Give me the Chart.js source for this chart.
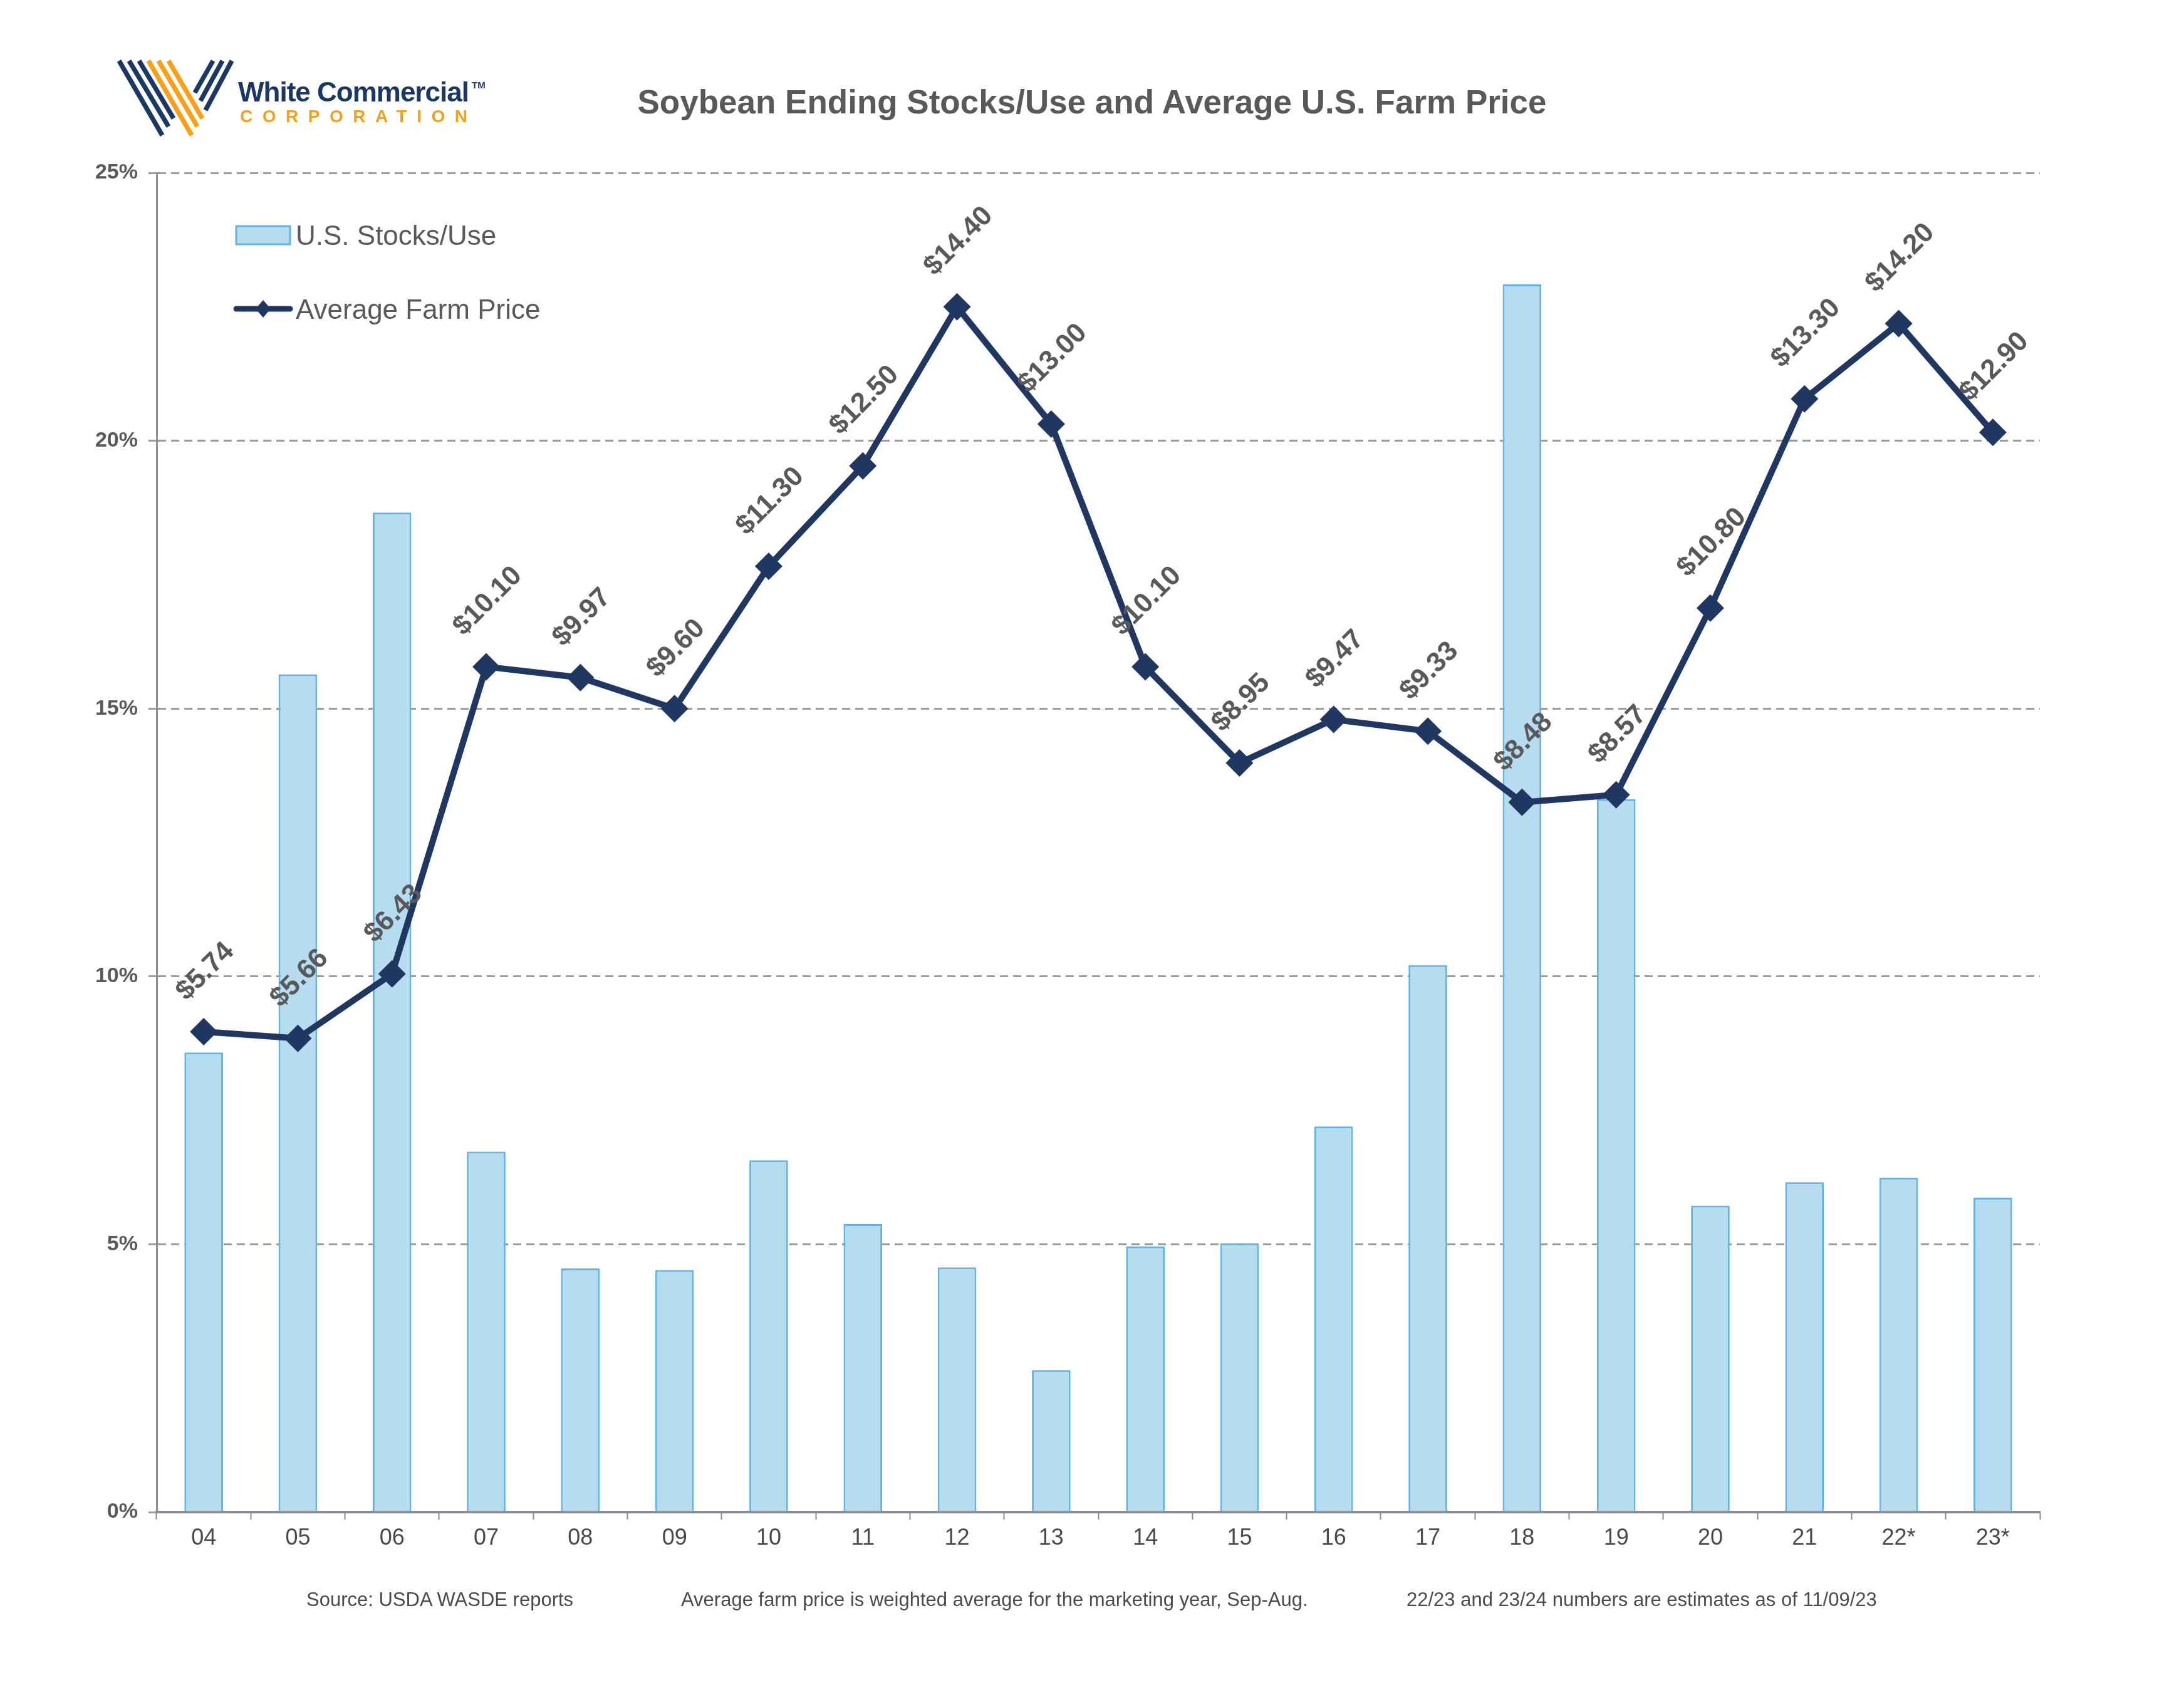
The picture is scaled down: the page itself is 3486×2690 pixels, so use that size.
<!DOCTYPE html>
<html>
<head>
<meta charset="utf-8">
<title>Soybean Ending Stocks/Use and Average U.S. Farm Price</title>
<script src="https://cdn.jsdelivr.net/npm/chart.js@4.4.0/dist/chart.umd.min.js"></script>
<style>
  html, body { margin: 0; padding: 0; background: #fff; }
  #wrap { position: relative; width: 3486px; height: 2690px; overflow: hidden;
          font-family: "Liberation Sans", Arial, sans-serif; }
  #chart { position: absolute; left: 0; top: 0; }
  .txt { position: absolute; white-space: nowrap; line-height: 1; }
  .logo-name { left: 380px; top: 125px; font-size: 44px; font-weight: bold; color: #1b3764; letter-spacing: -1px; }
  .logo-tm { left: 753px; top: 128px; font-size: 15px; font-weight: bold; color: #1b3764; }
  .logo-corp { left: 383px; top: 172px; font-size: 28px; font-weight: bold; color: #f5a01a; letter-spacing: 15.5px; }
  .title { left: 0; width: 3486px; text-align: center; top: 136px; font-size: 53px; font-weight: bold; color: #58595b; }
  .note { top: 2538px; font-size: 31px; color: #4a4a4c; }
</style>
</head>
<body>
<div id="wrap">
  <canvas id="chart" width="3486" height="2690" style="width:3486px;height:2690px"></canvas>

  <!-- logo -->
  <svg style="position:absolute;left:0;top:0" width="420" height="240">
    <g stroke-width="7.5" stroke-linecap="butt" fill="none">
      <line x1="190" y1="97" x2="259" y2="216" stroke="#1b3764"/>
      <line x1="206" y1="97" x2="269" y2="202" stroke="#1b3764"/>
      <line x1="222" y1="97" x2="277" y2="189" stroke="#1b3764"/>
      <line x1="237" y1="97" x2="306" y2="216" stroke="#f7a11a"/>
      <line x1="253" y1="97" x2="315" y2="202" stroke="#f7a11a"/>
      <line x1="269" y1="97" x2="323" y2="189" stroke="#f7a11a"/>
      <line x1="340" y1="97" x2="311" y2="148" stroke="#1b3764"/>
      <line x1="355" y1="97" x2="320" y2="161" stroke="#1b3764"/>
      <line x1="370" y1="97" x2="328" y2="176" stroke="#1b3764"/>
    </g>
  </svg>
  <div class="txt logo-name">White Commercial</div>
  <div class="txt logo-tm">TM</div>
  <div class="txt logo-corp">CORPORATION</div>

  <div class="txt title">Soybean Ending Stocks/Use and Average U.S. Farm Price</div>

  <div class="txt note" style="left:489px">Source: USDA WASDE reports</div>
  <div class="txt note" style="left:1087px">Average farm price is weighted average for the marketing year, Sep-Aug.</div>
  <div class="txt note" style="left:2245px">22/23 and 23/24 numbers are estimates as of 11/09/23</div>
</div>

<script>
// Data
const years = ['04', '05', '06', '07', '08', '09', '10', '11', '12', '13',
    '14', '15', '16', '17', '18', '19', '20', '21', '22*', '23*'];
const stocksUse = [8.58, 15.64, 18.66, 6.73, 4.55, 4.52, 6.57, 5.38, 4.57, 2.65,
    4.96, 5.02, 7.20, 10.21, 22.92, 13.31, 5.72, 6.16, 6.24, 5.87];
const farmPrice = [5.74, 5.66, 6.43, 10.10, 9.97, 9.60, 11.30, 12.50, 14.40, 13.00,
    10.10, 8.95, 9.47, 9.33, 8.48, 8.57, 10.80, 13.30, 14.20, 12.90];
const priceLabels = farmPrice.map(v => '$' + v.toFixed(2));
const pctTicks = [0, 5, 10, 15, 20, 25];

const FONT = '"Liberation Sans", Arial, sans-serif';
const GREY_TEXT = '#58595b';

// price labels, rotated 45 degrees above each point
const priceLabelPlugin = {
    id: 'priceLabels',
    afterDatasetsDraw(chart) {
        const meta = chart.getDatasetMeta(1);
        const ctx = chart.ctx;
        const size = 44;
        ctx.save();
        ctx.font = 'bold ' + size + 'px ' + FONT;
        ctx.fillStyle = GREY_TEXT;
        ctx.textAlign = 'center';
        ctx.textBaseline = 'alphabetic';
        meta.data.forEach((pt, i) => {
            const txt = priceLabels[i];
            const w = ctx.measureText(txt).width;
            const half = (w + 38) * Math.SQRT1_2 / 2;
            ctx.save();
            ctx.translate(pt.x, pt.y - 46 - half);
            ctx.rotate(-Math.PI / 4);
            ctx.fillText(txt, 0, size * 0.36);
            ctx.restore();
        });
        ctx.restore();
    }
};

// legend drawn inside the plot, top left
const insideLegend = {
    id: 'insideLegend',
    afterDraw(chart) {
        const ctx = chart.ctx;
        const bars = chart.data.datasets[0];
        const line = chart.data.datasets[1];
        ctx.save();
        ctx.fillStyle = bars.backgroundColor;
        ctx.fillRect(377, 361, 86, 29);
        ctx.strokeStyle = bars.borderColor;
        ctx.lineWidth = 3;
        ctx.strokeRect(377, 361, 86, 29);

        ctx.strokeStyle = line.borderColor;
        ctx.lineWidth = 9;
        ctx.lineCap = 'round';
        ctx.beginPath();
        ctx.moveTo(377, 493);
        ctx.lineTo(463, 493);
        ctx.stroke();
        ctx.fillStyle = line.borderColor;
        ctx.beginPath();
        ctx.moveTo(420, 479);
        ctx.lineTo(432, 493);
        ctx.lineTo(420, 507);
        ctx.lineTo(408, 493);
        ctx.closePath();
        ctx.fill();

        ctx.font = '44px ' + FONT;
        ctx.fillStyle = GREY_TEXT;
        ctx.textBaseline = 'alphabetic';
        ctx.fillText(bars.label, 472, 391);
        ctx.fillText(line.label, 472, 509);
        ctx.restore();
    }
};

const ctx = document.getElementById('chart');
new Chart(ctx, {
    type: 'bar',
    data: {
        labels: years,
        datasets: [{
            type: 'bar',
            label: 'U.S. Stocks/Use',
            data: stocksUse,
            backgroundColor: '#b7dcf0',
            borderColor: '#62b4e3',
            borderWidth: 3,
            barPercentage: 0.41,
            categoryPercentage: 1.0,
            yAxisID: 'y',
            order: 2
        }, {
            type: 'line',
            label: 'Average Farm Price',
            data: farmPrice,
            borderColor: '#203761',
            backgroundColor: '#203761',
            borderWidth: 10,
            tension: 0,
            pointStyle: 'rectRot',
            pointRadius: 22,
            pointBorderWidth: 0,
            pointBackgroundColor: '#203761',
            yAxisID: 'y2',
            order: 1
        }]
    },
    options: {
        responsive: false,
        devicePixelRatio: 1,
        animation: false,
        layout: { padding: { top: 276, right: 230, bottom: 0, left: 0 } },
        plugins: {
            legend: { display: false },
            tooltip: { enabled: false },
            title: { display: false }
        },
        scales: {
            x: {
                offset: true,
                grid: {
                    display: true,
                    offset: true,
                    drawOnChartArea: false,
                    drawTicks: true,
                    tickLength: 12,
                    tickColor: '#8a8b96',
                    tickWidth: 2
                },
                border: { display: true, color: '#8a8b96', width: 4 },
                ticks: {
                    font: { family: FONT, size: 36 },
                    color: '#4a4a4c',
                    padding: 8,
                    maxRotation: 0,
                    autoSkip: false
                },
                afterFit(scale) { scale.height = 276; }
            },
            y: {
                min: 0,
                max: 25,
                afterBuildTicks(scale) { scale.ticks = pctTicks.map(v => ({ value: v })); },
                ticks: {
                    callback: v => v + '%',
                    font: { family: FONT, size: 34, weight: 'bold' },
                    color: GREY_TEXT,
                    padding: 17
                },
                grid: {
                    color: '#9b9b9b',
                    lineWidth: 3,
                    tickLength: 13,
                    tickColor: '#9b9b9b',
                    tickWidth: 3
                },
                border: { display: true, color: '#8e8f9c', width: 3, dash: [13, 8] },
                afterFit(scale) { scale.width = 250; }
            },
            y2: {
                display: false,
                position: 'right',
                min: 0,
                max: 16
            }
        }
    },
    plugins: [priceLabelPlugin, insideLegend]
});
</script>
</body>
</html>
